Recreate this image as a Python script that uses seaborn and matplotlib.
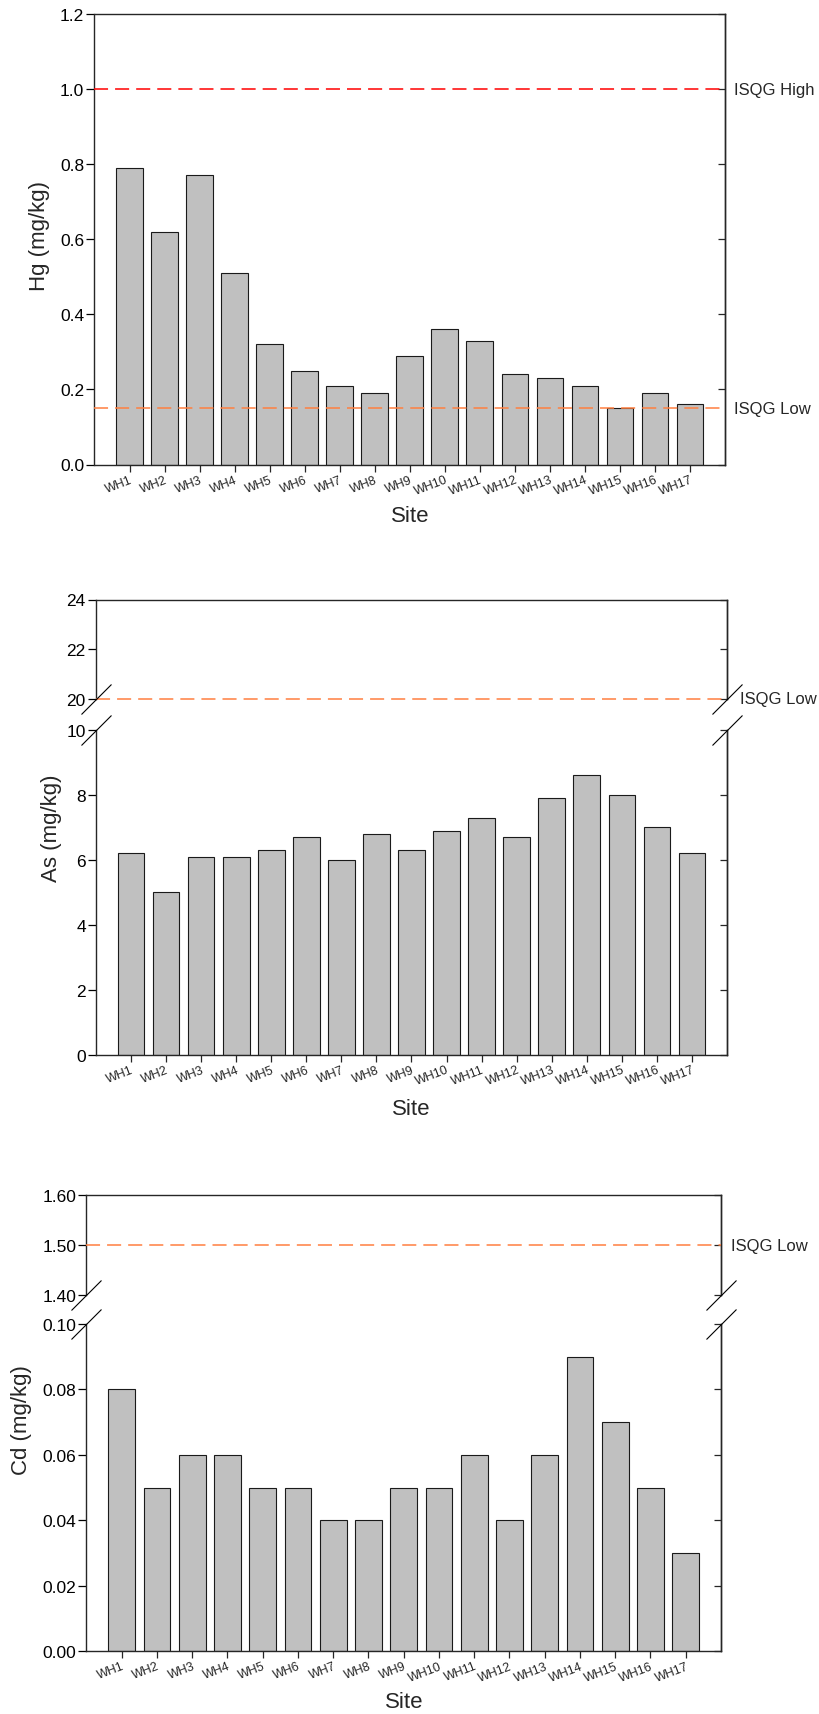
import matplotlib
matplotlib.use("Agg")
import matplotlib.pyplot as plt
import seaborn as sns
from matplotlib.ticker import FormatStrFormatter

sites = ["WH1", "WH2", "WH3", "WH4", "WH5", "WH6", "WH7", "WH8", "WH9",
         "WH10", "WH11", "WH12", "WH13", "WH14", "WH15", "WH16", "WH17"]

hg_values = [0.79, 0.62, 0.77, 0.51, 0.32, 0.25, 0.21, 0.19, 0.29,
             0.36, 0.33, 0.24, 0.23, 0.21, 0.15, 0.19, 0.16]
as_values = [6.2, 5.0, 6.1, 6.1, 6.3, 6.7, 6.0, 6.8, 6.3,
             6.9, 7.3, 6.7, 7.9, 8.6, 8.0, 7.0, 6.2]
cd_values = [0.08, 0.05, 0.06, 0.06, 0.05, 0.05, 0.04, 0.04, 0.05,
             0.05, 0.06, 0.04, 0.06, 0.09, 0.07, 0.05, 0.03]

hg_isqg_high = 1.0
hg_isqg_low = 0.15
as_isqg_low = 20
cd_isqg_low = 1.50

hg_ticks = [0.0, 0.2, 0.4, 0.6, 0.8, 1.0, 1.2]
as_ticks_low = [0, 2, 4, 6, 8, 10]
as_ticks_high = [20, 22, 24]
cd_ticks_low = [0.00, 0.02, 0.04, 0.06, 0.08, 0.10]
cd_ticks_high = [1.40, 1.50, 1.60]

W, H = 820, 1715
BAR = "#C0C0C0"
RED = "#FF0000"
ORANGE = "#FF7F40"
DASH = (0, (9.2, 4.6))

sns.set_style("ticks")
plt.rcParams["font.family"] = ["Liberation Sans", "DejaVu Sans"]
plt.rcParams["axes.linewidth"] = 1.0


def rect(x0, y0, x1, y1):
    return [x0 / W, 1 - y1 / H, (x1 - x0) / W, (y1 - y0) / H]


def draw_bars(ax, values):
    sns.barplot(x=sites, y=values, color=BAR, edgecolor="#1a1a1a", linewidth=0.8,
                width=0.76, saturation=1, ax=ax, zorder=2)
    ax.set_xlim(-1, len(sites))
    ax.set_xlabel("")
    ax.set_ylabel("")


def style_y(ax, ticks, fmt, lim):
    ax.set_ylim(*lim)
    ax.set_yticks(ticks)
    ax.yaxis.set_major_formatter(FormatStrFormatter(fmt))
    ax.tick_params(axis="y", direction="out", length=5.8, width=0.9,
                   labelsize=12.5, pad=1.5, right=False, colors="black")
    sec = ax.secondary_yaxis("right")
    sec.set_yticks(ticks)
    sec.tick_params(axis="y", direction="in", length=5.3, width=0.9,
                    labelright=False, labelleft=False)
    return sec


def style_x(ax):
    ax.set_xticks(range(len(sites)))
    ax.set_xticklabels(sites, rotation=21, ha="right", rotation_mode="anchor",
                       fontsize=9)
    ax.tick_params(axis="x", direction="out", length=4.8, width=0.9, pad=1.5)


def isqg(ax, value, color, label, offset):
    ax.axhline(value, color=color, linestyle=DASH, linewidth=1.1, zorder=3,
               clip_on=False)
    ax.annotate(label, xy=(1, value), xycoords=("axes fraction", "data"),
                xytext=(offset, 0), textcoords="offset points",
                ha="left", va="center", fontsize=12, annotation_clip=False)


def break_marks(up, lo):
    kw = dict(marker=[(-1, -1), (1, 1)], markersize=21.6, linestyle="none",
              color="k", mec="k", mew=0.8, clip_on=False, zorder=5)
    up.plot([0, 1], [0, 0], transform=up.transAxes, **kw)
    lo.plot([0, 1], [1, 1], transform=lo.transAxes, **kw)


def broken_panel(y_top, y_mid1, y_mid2, y_bot, x0, x1, values, ticks_hi, ticks_lo,
                 fmt, lim_hi, lim_lo):
    up = fig.add_axes(rect(x0, y_top, x1, y_mid1))
    lo = fig.add_axes(rect(x0, y_mid2, x1, y_bot))
    draw_bars(up, values)
    draw_bars(lo, values)
    style_y(up, ticks_hi, fmt, lim_hi)
    style_y(lo, ticks_lo, fmt, lim_lo)
    up.spines["bottom"].set_visible(False)
    up.tick_params(axis="x", bottom=False, labelbottom=False)
    lo.spines["top"].set_visible(False)
    style_x(lo)
    break_marks(up, lo)
    return up, lo


fig = plt.figure(figsize=(W / 100, H / 100), dpi=100)

# Hg
ax1 = fig.add_axes(rect(94.5, 15, 725, 465.5))
draw_bars(ax1, hg_values)
style_y(ax1, hg_ticks, "%.1f", (0, 1.2))
style_x(ax1)
isqg(ax1, hg_isqg_high, RED, "ISQG High", 6.5)
isqg(ax1, hg_isqg_low, ORANGE, "ISQG Low", 6.5)
ax1.set_ylabel("Hg (mg/kg)", fontsize=16)
ax1.yaxis.set_label_coords(-0.07, 0.51)
ax1.set_xlabel("Site", fontsize=16)
ax1.xaxis.set_label_coords(0.5, -0.089)

# As
up2, lo2 = broken_panel(600.5, 700, 731, 1055.5, 96, 727, as_values,
                        as_ticks_high, as_ticks_low, "%d", (20, 24), (0, 10))
isqg(up2, as_isqg_low, ORANGE, "ISQG Low", 9.4)
lo2.set_ylabel("As (mg/kg)", fontsize=16)
lo2.yaxis.set_label_coords(-0.054, 0.70)
lo2.set_xlabel("Site", fontsize=16)
lo2.xaxis.set_label_coords(0.5, -0.135)

# Cd
up3, lo3 = broken_panel(1196, 1296, 1325, 1652, 86.5, 721, cd_values,
                        cd_ticks_high, cd_ticks_low, "%.2f", (1.40, 1.60), (0, 0.10))
isqg(up3, cd_isqg_low, ORANGE, "ISQG Low", 7)
lo3.set_ylabel("Cd (mg/kg)", fontsize=16)
lo3.yaxis.set_label_coords(-0.086, 0.71)
lo3.set_xlabel("Site", fontsize=16)
lo3.xaxis.set_label_coords(0.5, -0.122)

fig.savefig("out.png", dpi=100)
